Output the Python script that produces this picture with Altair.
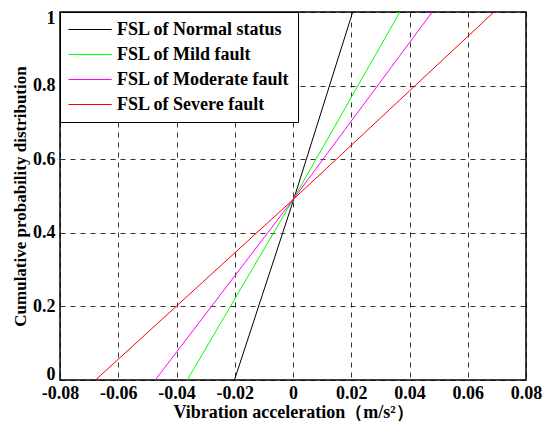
import altair as alt
import pandas as pd

series = ["FSL of Normal status", "FSL of Mild fault", "FSL of Moderate fault", "FSL of Severe fault"]
colors = ["#000000", "#00ff00", "#ff00ff", "#ff0000"]
normal_x = [-0.0201, 0.0002, 0.0205]
normal_y = [0.0, 0.49, 1.0]
mild_x = [-0.0363, 0.0, 0.0367]
mild_y = [0.0, 0.49, 1.0]
moderate_x = [-0.0473, 0.0, 0.0478]
moderate_y = [0.0, 0.49, 1.0]
severe_x = [-0.0678, 0.0, 0.069]
severe_y = [0.0, 0.49, 1.0]

xs = [normal_x, mild_x, moderate_x, severe_x]
ys = [normal_y, mild_y, moderate_y, severe_y]
rows = []
for name, xv, yv in zip(series, xs, ys):
    for i, (a, b) in enumerate(zip(xv, yv)):
        rows.append({"series": name, "x": a, "y": b, "order": i})
df = pd.DataFrame(rows)

FONT = "Liberation Serif"

chart = alt.Chart(df).mark_line(strokeWidth=1, clip=True).encode(
    x=alt.X("x:Q", scale=alt.Scale(domain=[-0.08, 0.08], nice=False, zero=False),
            axis=alt.Axis(values=[-0.08, -0.06, -0.04, -0.02, 0, 0.02, 0.04, 0.06, 0.08],
                          labelExpr="replace(format(datum.value, '~g'), '−', '-')",
                          labelFlush=False,
                          title="Vibration acceleration（m/s²）",
                          labelPadding=4, titlePadding=1, titleFontSize=18)),
    y=alt.Y("y:Q", scale=alt.Scale(domain=[0, 1], nice=False),
            axis=alt.Axis(values=[0, 0.2, 0.4, 0.6, 0.8, 1],
                          labelExpr="format(datum.value, '~g')",
                          labelFlush=True, labelFlushOffset=3,
                          labelPadding=5,
                          title="Cumulative probability distribution",
                          titleFontSize=17,
                          titleX=-40, titleY=184, titleAngle=270,
                          titleBaseline="middle", titleAlign="center")),
    color=alt.Color("series:N", scale=alt.Scale(domain=series, range=colors),
                    sort=series,
                    legend=alt.Legend(title=None, orient="none", legendX=0, legendY=0,
                                      symbolType="M-1,0H3.8", symbolSize=324,
                                      symbolStrokeWidth=1, labelFont=FONT,
                                      labelFontWeight="bold", labelFontSize=18,
                                      labelColor="black", labelOffset=30,
                                      labelLimit=300,
                                      rowPadding=6, padding=8,
                                      strokeColor="black", fillColor="white")),
    order="order:Q",
).properties(
    width=466, height=368,
    autosize=alt.AutoSizeParams(type="none"),
    padding={"left": 52, "top": 4, "right": 16, "bottom": 41},
).configure_view(
    stroke="black", strokeWidth=1.5
).configure_axis(
    grid=True, gridColor="black", gridDash=[5, 5], gridOpacity=0.8, gridWidth=1,
    domain=False, ticks=False,
    labelFont=FONT, labelFontWeight="bold", labelFontSize=18, labelColor="black",
    titleFont=FONT, titleFontWeight="bold", titleColor="black",
)

chart.save("out.html", embed_options={"renderer": "svg", "actions": False})
